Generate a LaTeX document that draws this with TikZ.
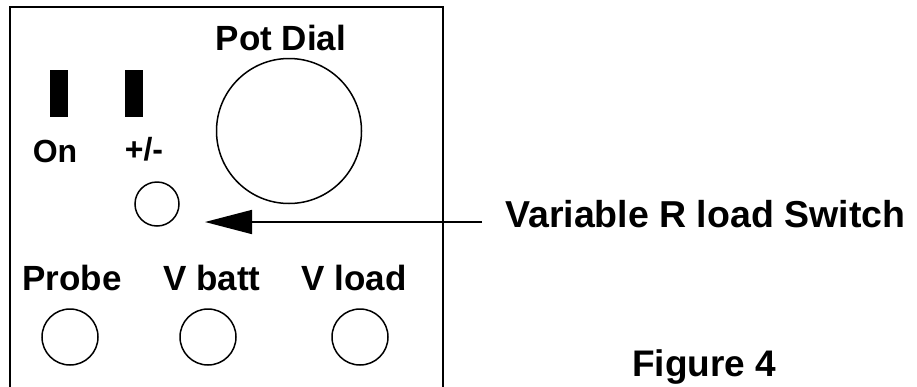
\documentclass[tikz,border=0pt]{standalone}
\usepackage{fontspec}
\setmainfont{Liberation Sans}
\usetikzlibrary{arrows.meta}

\tikzset{
  panelLabel/.style={anchor=base, font=\fontsize{35}{35}\selectfont\bfseries, inner sep=0pt},
  smallLabel/.style={anchor=base, font=\fontsize{32}{32}\selectfont\bfseries, inner sep=0pt},
  jack/.style={circle, draw=black, line width=1.5pt, inner sep=0pt},
  toggle/.style={rectangle, fill=black, inner sep=0pt, minimum width=18pt, minimum height=47pt}
}

\begin{document}
\begin{tikzpicture}[x=1pt, y=-1pt]

\def\boxL{10}
\def\boxT{7}
\def\boxR{443}
\def\boxB{392}
\def\jackR{56pt}   % diameter of the small jacks
\def\rowY{337}

\useasboundingbox (0,0) rectangle (917,386);

% --- PANEL OUTLINE ---
\draw[line width=2pt] (\boxL,\boxB) -- (\boxL,\boxT) -- (\boxR,\boxT) -- (\boxR,\boxB);

% --- TOP: toggles and pot dial ---
\node[panelLabel] (potLbl) at (281,50) {Pot Dial};
\node[jack, minimum size=145pt] (pot) at (289,131) {};

\node[toggle] (onSw) at (59,93.5) {};
\node[toggle] (pmSw) at (134,93.5) {};
\node[smallLabel] (onLbl) at (55,162) {On};
\node[smallLabel] (pmLbl) at (144,160) {+/-};

\node[jack, minimum size=44pt] (rSw) at (157,204) {};

% --- BOTTOM ROW: jacks ---
\node[panelLabel] (probeLbl) at (72,290) {Probe};
\node[panelLabel] (battLbl) at (212,290) {V batt};
\node[panelLabel] (loadLbl) at (354,290) {V load};

\node[jack, minimum size=\jackR] (probe) at (70,\rowY) {};
\node[jack, minimum size=\jackR] (batt) at (208,\rowY) {};
\node[jack, minimum size=\jackR] (load) at (360,\rowY) {};

% --- CALLOUT ---
\node[panelLabel, anchor=base west, font=\fontsize{37.5}{37.5}\selectfont\bfseries] (rLbl) at (505,227) {Variable R load Switch};
\coordinate (tail) at (482,222);
\coordinate (tip) at (205,222);
\draw[line width=1.6pt, -{Triangle[length=47pt, width=24pt]}] (tail) -- (tip);

\node[panelLabel, anchor=base west, font=\fontsize{37}{37}\selectfont\bfseries] (figLbl) at (632,376) {Figure 4};

\end{tikzpicture}
\end{document}
